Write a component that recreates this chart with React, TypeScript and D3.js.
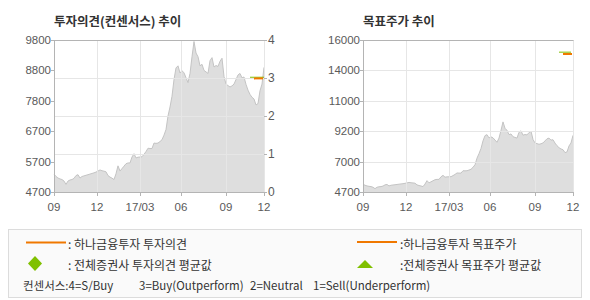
import React from 'react';
import * as d3 from 'd3';

// ---- data ----
const xTickLabels = ['09', '12', '17/03', '06', '09', '12'];
const xTickIdx = [0, 21.5, 43, 63.5, 86, 105];
const opinionPriceTicks = [4700, 5700, 6700, 7800, 8800, 9800];
const opinionTicks = [0, 1, 2, 3, 4];
const targetPriceTicks = [4700, 7000, 9200, 11000, 14000, 16000];

const prices = [
  5290, 5210, 5160, 5130, 5110, 5060, 4950, 5060, 5095, 5110,
  5150, 5240, 5270, 5160, 5210, 5230, 5250, 5270, 5290, 5310,
  5330, 5355, 5390, 5425, 5400, 5385, 5365, 5240, 5190, 5155,
  5110, 5300, 5560, 5390, 5470, 5550, 5630, 5655, 5655, 5850,
  5960, 5820, 5845, 5850, 5860, 5940, 6030, 6140, 6130, 6130,
  6310, 6300, 6310, 6360, 6420, 6570, 6760, 7250, 7575, 7950,
  8500, 8880, 8950, 8714, 8790, 8720, 8560, 8400, 8700, 9250,
  9750, 9372, 9250, 8950, 9000, 8800, 8750, 8700, 9120, 9220,
  8912, 8960, 8930, 9100, 9200, 8600, 8350, 8300, 8254, 8290,
  8350, 8500, 8650, 8700, 8555, 8583, 8340, 8150, 8010, 7915,
  7860, 7650, 7700, 8130, 8350, 8900,
];

const hanaOpinionIdx = [100, 104.5];
const hanaOpinionVal = [2.99, 2.99];
const consensusOpinionIdx = [98, 105];
const consensusOpinionVal = [3.02, 3.02];
const hanaTargetIdx = [100, 104.5];
const hanaTargetVal = [15080, 15080];
const consensusTargetIdx = [98, 104];
const consensusTargetVal = [15200, 15200];

const consensusLegend = [
  { text: '컨센서스:4=S/Buy', x: 23 },
  { text: '3=Buy(Outperform)', x: 139 },
  { text: '2=Neutral', x: 250 },
  { text: '1=Sell(Underperform)', x: 313 },
];

// ---- styles ----
const KR = "'Noto Sans CJK KR', 'Noto Sans', sans-serif";
const NUM = "'Liberation Sans', Arial, sans-serif";
const ORANGE = '#f07800';
const GREEN = '#80c000';
const AXIS = '#b4b4b4';
const GRID = '#e6e6e6';
const TICKTXT = '#5a5a5a';
const FILL = '#dedede';
const LINE = '#c4c4c4';

const TOP = 40;
const BOTTOM = 192;

function evenRange(n: number) {
  return d3.range(n).map((i) => BOTTOM - (i * (BOTTOM - TOP)) / (n - 1));
}

function PriceChart(props: {
  left: number;
  width: number;
  title: string;
  priceTicks: number[];
  hGridVals: number[];
  yScale: any;
  extra?: React.ReactNode;
}) {
  const { left, width, title, priceTicks, yScale } = props;
  const right = left + width;
  const x = d3.scaleLinear().domain([0, prices.length - 1]).range([left, right]);
  const area = d3
    .area<number>()
    .x((_, i) => x(i))
    .y0(BOTTOM)
    .y1((d) => yScale(d));
  const line = d3
    .line<number>()
    .x((_, i) => x(i))
    .y((d) => yScale(d));
  return (
    <g>
      <text x={left} y={20} fontFamily={KR} fontWeight="bold" fontSize={12.5} fill="#333" dominantBaseline="central">
        {title}
      </text>
      <path d={area(prices) || ''} fill={FILL} />
      <path d={line(prices) || ''} fill="none" stroke={LINE} strokeWidth={1} />
      {props.hGridVals.map((gy, i) => (
        <line key={'hg' + i} x1={left} x2={right} y1={Math.round(gy) + 0.5} y2={Math.round(gy) + 0.5} stroke={GRID} />
      ))}
      {xTickIdx.slice(1).map((t, i) => (
        <line key={'vg' + i} x1={Math.round(x(t)) + 0.5} x2={Math.round(x(t)) + 0.5} y1={TOP} y2={BOTTOM} stroke={GRID} />
      ))}
      <line x1={left + 0.5} x2={right + 0.5} y1={TOP + 0.5} y2={TOP + 0.5} stroke={AXIS} />
      <line x1={left + 0.5} x2={left + 0.5} y1={TOP} y2={BOTTOM + 4} stroke={AXIS} />
      <line x1={left} x2={right + 1} y1={BOTTOM + 0.5} y2={BOTTOM + 0.5} stroke={AXIS} />
      {xTickIdx.map((t, i) => (
        <g key={'xt' + i}>
          <line x1={Math.round(x(t)) + 0.5} x2={Math.round(x(t)) + 0.5} y1={BOTTOM} y2={BOTTOM + 4} stroke={AXIS} />
          <text x={x(t)} y={207} textAnchor="middle" dominantBaseline="central" fontFamily={NUM} fontSize={11.5} fill={TICKTXT}>
            {xTickLabels[i]}
          </text>
        </g>
      ))}
      {priceTicks.map((p, i) => {
        const py = Math.round(yScale(p)) + 0.5;
        return (
          <g key={'yt' + i}>
            <line x1={left - 3} x2={left} y1={py} y2={py} stroke={AXIS} />
            <text x={left - 3} y={yScale(p)} textAnchor="end" dominantBaseline="central" fontFamily={NUM} fontSize={11.5} fill={TICKTXT}>
              {p}
            </text>
          </g>
        );
      })}
      {props.extra}
    </g>
  );
}

export default function App() {
  const L = 54, W = 210;
  const xl = d3.scaleLinear().domain([0, prices.length - 1]).range([L, L + W]);
  const yPriceL = d3.scaleLinear().domain(opinionPriceTicks).range(evenRange(opinionPriceTicks.length));
  const yOpinion = d3.scaleLinear().domain([0, 4]).range([BOTTOM, TOP]);
  const R = 363;
  const xr = d3.scaleLinear().domain([0, prices.length - 1]).range([R, R + W]);
  const yPriceR = d3.scaleLinear().domain(targetPriceTicks).range(evenRange(targetPriceTicks.length));

  const seg = (xs: any, ys: any, idx: number[], vals: number[]) =>
    d3.line<number>().x((d) => xs(d)).y((_, i) => ys(vals[i]))(idx) || '';

  const leftExtra = (
    <g>
      {opinionTicks.map((o, i) => {
        const oy = Math.round(yOpinion(o)) + 0.5;
        return (
          <g key={'ot' + i}>
            <line x1={L + W} x2={L + W + 3} y1={oy} y2={oy} stroke={AXIS} />
            <text x={L + W + 4} y={yOpinion(o)} dominantBaseline="central" fontFamily={NUM} fontSize={12} fill={TICKTXT}>
              {o}
            </text>
          </g>
        );
      })}
      <path d={seg(xl, yOpinion, consensusOpinionIdx, consensusOpinionVal)} stroke={GREEN} strokeWidth={1} fill="none" />
      <path d={seg(xl, yOpinion, hanaOpinionIdx, hanaOpinionVal)} stroke={ORANGE} strokeWidth={2} fill="none" />
    </g>
  );
  const rightExtra = (
    <g>
      <path d={seg(xr, yPriceR, consensusTargetIdx, consensusTargetVal)} stroke={GREEN} strokeWidth={1} fill="none" />
      <path d={seg(xr, yPriceR, hanaTargetIdx, hanaTargetVal)} stroke={ORANGE} strokeWidth={2} fill="none" />
    </g>
  );

  return (
    <div style={{ position: 'fixed', left: 0, top: 0 }}>
      <svg width={590} height={300} style={{ display: 'block', background: '#fff' }}>
        <PriceChart
          left={L}
          width={W}
          title="투자의견(컨센서스) 추이"
          priceTicks={opinionPriceTicks}
          hGridVals={[1, 2, 3].map((o) => yOpinion(o))}
          yScale={yPriceL}
          extra={leftExtra}
        />
        <PriceChart
          left={R}
          width={W}
          title="목표주가 추이"
          priceTicks={targetPriceTicks}
          hGridVals={targetPriceTicks.slice(1, -1).map((p) => yPriceR(p))}
          yScale={yPriceR}
          extra={rightExtra}
        />
        <rect x={8.5} y={229.5} width={573} height={68} fill="#fafafa" stroke="#dcdcdc" />
        <g fontFamily={KR} fontSize={12} fill="#333">
          <line x1={26} x2={66} y1={242.5} y2={242.5} stroke={ORANGE} strokeWidth={2} />
          <text x={68} y={243} dominantBaseline="central">: 하나금융투자 투자의견</text>
          <line x1={357} x2={397} y1={242} y2={242} stroke={ORANGE} strokeWidth={2} />
          <text x={400} y={243} dominantBaseline="central">:하나금융투자 목표주가</text>
          <path d="M35,256 L42,263.5 L35,271 L28,263.5 Z" fill={GREEN} />
          <text x={68} y={264} dominantBaseline="central">: 전체증권사 투자의견 평균값</text>
          <path d="M365,260 L373,268 L357,268 Z" fill={GREEN} />
          <text x={400} y={264} dominantBaseline="central">:전체증권사 목표주가 평균값</text>
          {consensusLegend.map((c, i) => (
            <text key={'cl' + i} x={c.x} y={285} dominantBaseline="central" fontSize={11.5}>
              {c.text}
            </text>
          ))}
        </g>
      </svg>
    </div>
  );
}
